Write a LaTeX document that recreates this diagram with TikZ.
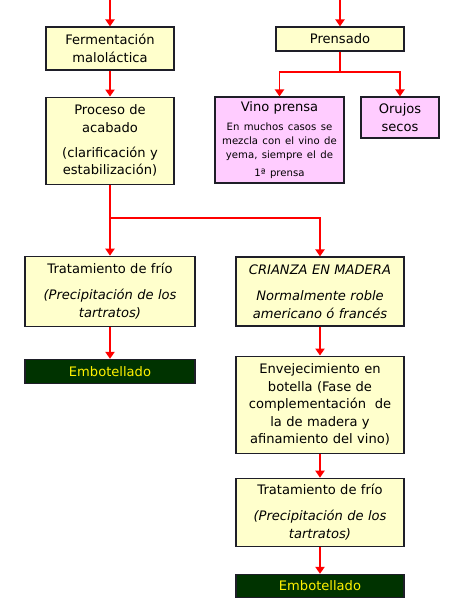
\documentclass[tikz,border=0pt]{standalone}
\usepackage{fontspec}
\setmainfont{DejaVu Sans}
\usetikzlibrary{positioning,arrows.meta}
\definecolor{cream}{RGB}{255,255,204}
\definecolor{lilac}{RGB}{255,204,255}
\definecolor{bottle}{RGB}{0,51,0}
\definecolor{flowred}{RGB}{255,0,0}
\definecolor{edge}{RGB}{30,30,40}
\tikzset{
  box/.style={draw=edge, line width=0.8pt, inner xsep=0pt, inner ysep=2pt,
              align=center, font=\fontsize{9.3pt}{12.5pt}\selectfont},
  creambox/.style={box, fill=cream},
  pinkbox/.style={box, fill=lilac},
  bottlebox/.style={box, fill=bottle, text=yellow, minimum height=0.6cm},
  arrow/.style={-{Triangle[length=5pt,width=6.5pt]}, flowred, line width=1.4pt},
}
\newcommand{\notefont}{\fontsize{7.2pt}{10.2pt}\selectfont}

\begin{document}
\begin{tikzpicture}[node distance=0.65cm]
  \useasboundingbox (0,0) rectangle (11.25,-15);
  % left column
  \node[creambox, text width=3.2cm, minimum height=1.075cm] (ferm) at (2.75,-1.2125) {Fermentación\\maloláctica};
  \node[creambox, text width=3.2cm, minimum height=2.175cm, below=0.65cm of ferm] (acab) {Proceso de\\acabado\\[5pt](clarificación y\\estabilización)};
  \node[creambox, text width=4.25cm, minimum height=1.75cm, below=1.775cm of acab] (frioA) {Tratamiento de frío\\[6pt]\textit{(Precipitación de los}\\\textit{tartratos)}};
  \node[bottlebox, text width=4.25cm, below=0.8cm of frioA] (botA) {Embotellado};
  % right column
  \node[creambox, text width=3.2cm, minimum height=0.6cm] (prens) at (8.5,-0.975) {Prensado};
  \node[pinkbox, text width=3.225cm, minimum height=2.15cm] (vino) at (6.9875,-3.5) {Vino prensa\par\vspace{3pt}\notefont En muchos casos se\\mezcla con el vino de\\yema, siempre el de\\1ª prensa};
  \node[pinkbox, text width=1.95cm, minimum height=1.025cm] (orujo) at (10,-2.9375) {Orujos\\secos};
  \node[creambox, text width=4.2cm, minimum height=1.725cm] (crianza) at (8,-7.2875) {\textit{CRIANZA EN MADERA}\\[6pt]\textit{Normalmente roble}\\\textit{americano ó francés}};
  \node[creambox, text width=4.2cm, minimum height=2.425cm, below=0.725cm of crianza] (enve) {Envejecimiento en\\botella (Fase de\\complementación~ de\\la de madera y\\afinamiento del vino)};
  \node[creambox, text width=4.2cm, minimum height=1.7cm, below=0.6cm of enve] (frioB) {Tratamiento de frío\\[6pt]\textit{(Precipitación de los}\\\textit{tartratos)}};
  \node[bottlebox, text width=4.2cm, minimum height=0.575cm, below=0.675cm of frioB] (botB) {Embotellado};
  % connectors
  \coordinate (inL) at (2.75,0);
  \coordinate (inR) at (8.5,0);
  \coordinate (splitP) at (8.5,-1.8);
  \coordinate (splitA) at (2.75,-5.45);
  \draw[arrow] (inL) -- (ferm);
  \draw[arrow] (ferm) -- (acab);
  \draw[arrow] (acab) -- (frioA);
  \draw[arrow] (splitA) -| (crianza);
  \draw[arrow] (frioA) -- (botA);
  \draw[arrow] (inR) -- (prens);
  \draw[flowred, line width=1.4pt] (prens) -- (splitP);
  \draw[arrow] (splitP) -| (vino);
  \draw[arrow] (splitP) -| (orujo);
  \draw[arrow] (crianza) -- (enve);
  \draw[arrow] (enve) -- (frioB);
  \draw[arrow] (frioB) -- (botB);
\end{tikzpicture}
\end{document}
